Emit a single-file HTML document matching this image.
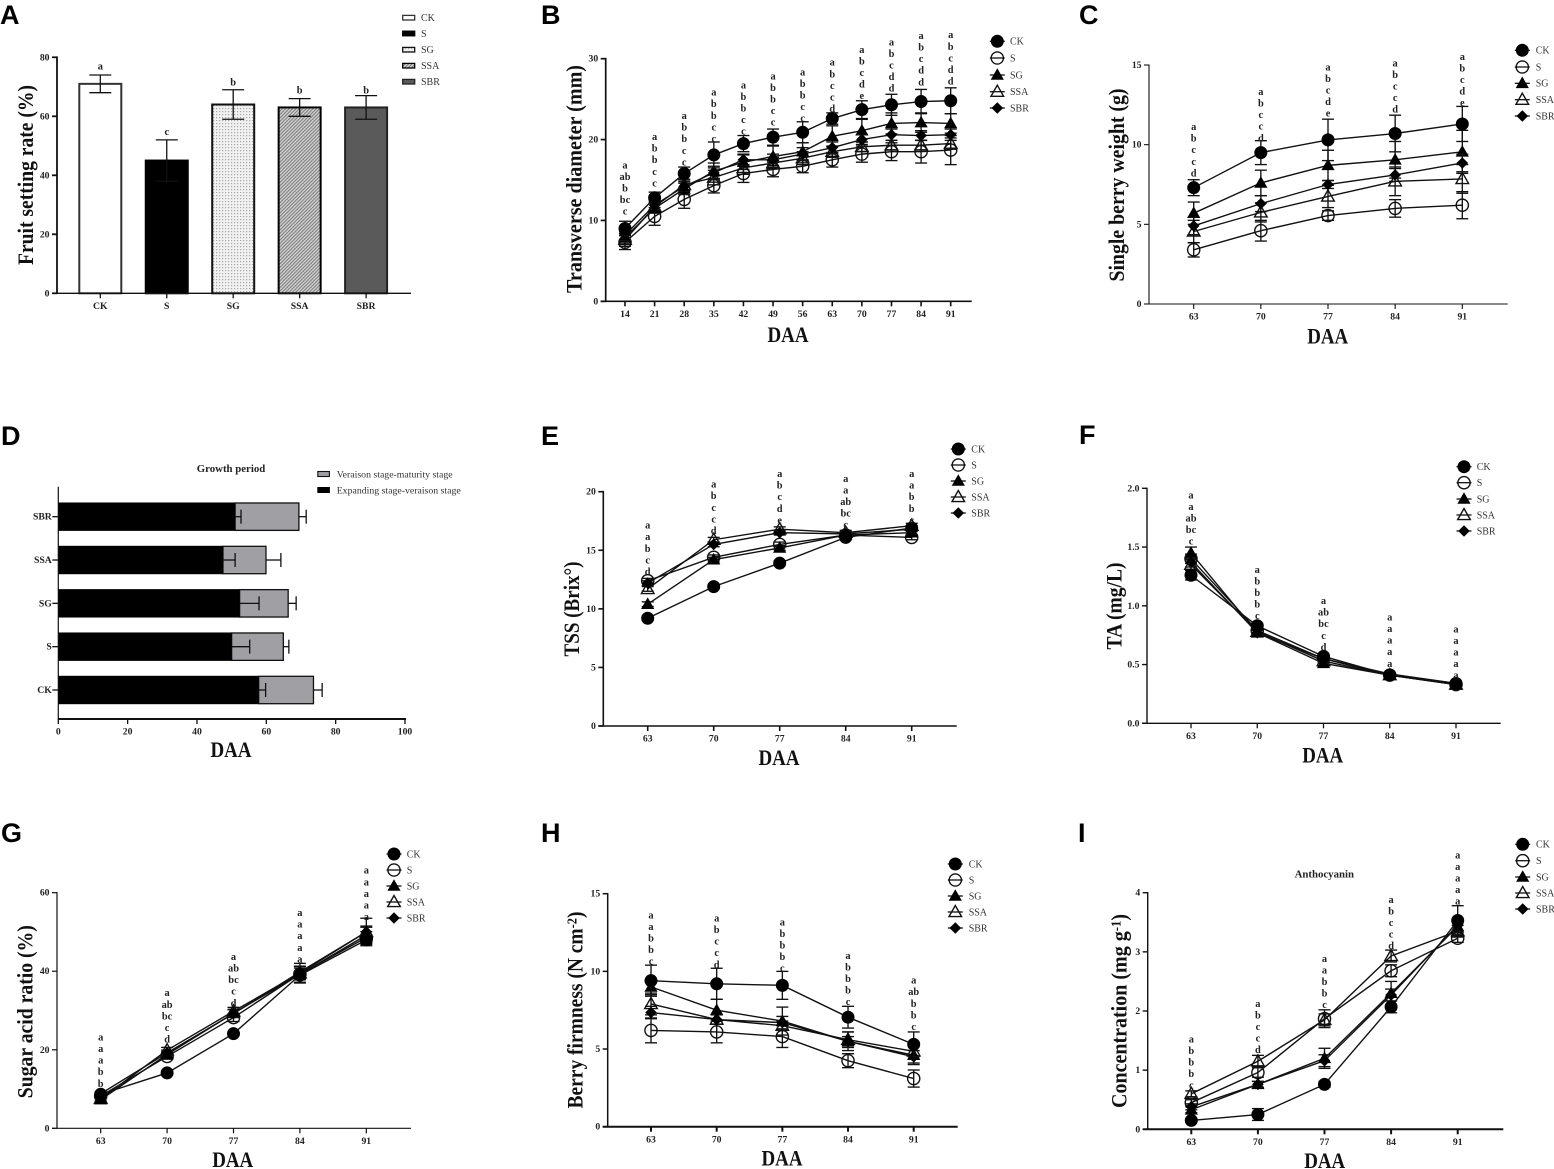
<!DOCTYPE html>
<html lang="en">
<head>
<meta charset="utf-8">
<title>Grape berry growth and quality panels</title>
<style>
html,body{margin:0;padding:0;background:#fff;}
svg{display:block;filter:blur(0.3px);}
text{font-family:"Liberation Serif",serif;fill:#111;}
.panel{font-family:"Liberation Sans",sans-serif;font-weight:700;font-size:27px;fill:#000;}
.ytitle{font-weight:700;font-size:22px;text-anchor:middle;fill:#111;}
.xtitle{font-weight:700;font-size:22px;text-anchor:middle;fill:#111;}
.ctitle{font-weight:700;font-size:10.8px;text-anchor:middle;fill:#222;}
.tick{font-weight:700;font-size:9.7px;fill:#222;}
.letter{font-weight:700;font-size:10.4px;text-anchor:middle;fill:#222;}
.leg{font-size:10px;fill:#333;}
.legd{font-size:9.8px;fill:#333;}
</style>
</head>
<body>
<svg id="figure" xmlns="http://www.w3.org/2000/svg" width="1554" height="1169" viewBox="0 0 1554 1169">
<defs>
<pattern id="stipple" width="3" height="3" patternUnits="userSpaceOnUse">
<rect width="3" height="3" fill="#f1f1f1"/>
<rect x="0" y="0" width="1.2" height="1.2" fill="#a8a8a8"/>
</pattern>
<pattern id="hatch" width="2.4" height="2.4" patternUnits="userSpaceOnUse" patternTransform="rotate(45)">
<rect width="2.4" height="2.4" fill="#d6d6d6"/>
<rect x="0" y="0" width="1.1" height="2.4" fill="#7c7c7c"/>
</pattern>
</defs>
<rect width="1554" height="1169" fill="#fff"/>

<text class="panel" x="0" y="24">A</text>
<text class="panel" x="541" y="24">B</text>
<text class="panel" x="1079" y="24">C</text>
<text class="panel" x="1" y="445">D</text>
<text class="panel" x="541" y="445">E</text>
<text class="panel" x="1079" y="444">F</text>
<text class="panel" x="1" y="842">G</text>
<text class="panel" x="541" y="842">H</text>
<text class="panel" x="1078" y="842">I</text>

<text class="ytitle" transform="translate(33,175) rotate(-90)" textLength="180" lengthAdjust="spacingAndGlyphs">Fruit setting rate (%)</text>
<text class="ytitle" transform="translate(581.7,179) rotate(-90)" textLength="228" lengthAdjust="spacingAndGlyphs">Transverse diameter (mm)</text>
<text class="ytitle" transform="translate(1124,185) rotate(-90)" textLength="193" lengthAdjust="spacingAndGlyphs">Single berry weight (g)</text>
<text class="ytitle" transform="translate(579,609) rotate(-90)" textLength="95" lengthAdjust="spacingAndGlyphs">TSS (Brix°)</text>
<text class="ytitle" transform="translate(1121.7,606) rotate(-90)" textLength="87" lengthAdjust="spacingAndGlyphs">TA (mg/L)</text>
<text class="ytitle" transform="translate(32.7,1011.7) rotate(-90)" textLength="173" lengthAdjust="spacingAndGlyphs">Sugar acid ratio (%)</text>
<text class="ytitle" transform="translate(582.7,1010) rotate(-90)" textLength="197" lengthAdjust="spacingAndGlyphs">Berry firmness (N cm<tspan dy="-6" font-size="14">-2</tspan><tspan dy="6">)</tspan></text>
<text class="ytitle" transform="translate(1126.7,1011) rotate(-90)" textLength="194" lengthAdjust="spacingAndGlyphs">Concentration (mg g<tspan dy="-6" font-size="14">-1</tspan><tspan dy="6">)</tspan></text>

<text class="xtitle" x="788" y="342" textLength="41" lengthAdjust="spacingAndGlyphs">DAA</text>
<text class="xtitle" x="1327.7" y="343.3" textLength="41" lengthAdjust="spacingAndGlyphs">DAA</text>
<text class="xtitle" x="231" y="757" textLength="41" lengthAdjust="spacingAndGlyphs">DAA</text>
<text class="xtitle" x="779" y="765" textLength="41" lengthAdjust="spacingAndGlyphs">DAA</text>
<text class="xtitle" x="1322.7" y="762.7" textLength="41" lengthAdjust="spacingAndGlyphs">DAA</text>
<text class="xtitle" x="232.7" y="1167" textLength="41" lengthAdjust="spacingAndGlyphs">DAA</text>
<text class="xtitle" x="782" y="1165.7" textLength="41" lengthAdjust="spacingAndGlyphs">DAA</text>
<text class="xtitle" x="1324.7" y="1168" textLength="41" lengthAdjust="spacingAndGlyphs">DAA</text>

<text class="ctitle" x="231" y="472">Growth period</text>
<text class="ctitle" x="1324.3" y="877.5">Anthocyanin</text>
</svg>

<script>
// ---------- Panel A data ----------
const aCategories = ['CK','S','SG','SSA','SBR'];
const aValues = [71,45,64,63,63];
const aErrors = [3,7,5,3,4];
const aLetters = ['a','c','b','b','b'];
const aLetterLevels = [76.8,54.7,71.4,68.7,68.7];
const aYTicks = ['0','20','40','60','80'];

// ---------- Panel D data ----------
const dCategories = ['CK','S','SG','SSA','SBR'];
const dExpanding = [57.8,50,52.3,47.5,51];
const dExpandingErr = [2,5.2,5.6,3.5,1.7];
const dVeraison = [15.8,14.9,14,12.4,18.4];
const dVeraisonErr = [2.5,1.6,2.3,4.3,2.1];
const dXTicks = ['0','20','40','60','80','100'];

// ---------- Panel B data ----------
const bCategories = ['14','21','28','35','42','49','56','63','70','77','84','91'];
const bYTicks = ['0','10','20','30'];
const bCK = [9.0,12.8,15.8,18.1,19.5,20.3,20.9,22.6,23.7,24.3,24.7,24.8];
const bS = [7.3,10.5,12.6,14.3,15.8,16.3,16.7,17.5,18.2,18.5,18.5,18.7];
const bSG = [7.9,11.5,13.9,16.1,17.2,17.9,18.5,20.4,21.1,22.0,22.1,22.0];
const bSSA = [7.6,11.7,14.4,15.3,16.5,17.1,17.7,18.5,19.1,19.3,19.3,19.5];
const bSBR = [8.2,11.9,14.2,15.9,17.5,17.5,18.2,19.0,20.0,20.6,20.5,20.6];
const bCKErr = [0.9,0.7,0.8,1.6,1.0,1.0,1.3,0.7,1.1,1.3,1.5,1.6];
const bSErr = [0.9,1.1,1.1,0.9,1.1,0.9,0.8,0.9,1.0,1.1,1.4,1.8];
const bSGErr = [0.7,0.6,0.7,1.0,0.9,1.3,1.1,1.3,1.4,1.3,1.2,1.2];
const bSSAErr = [0.8,0.6,0.7,0.9,0.8,0.7,0.8,0.7,0.6,0.6,0.6,0.7];
const bSBRErr = [0.7,0.6,0.6,0.8,0.7,0.7,0.8,0.7,0.6,0.7,0.6,0.7];
const bLetters = [['a','ab','b','bc','c'],['a','b','b','c','c'],['a','b','b','c','c'],['a','b','b','c','c'],['a','b','b','c','c'],['a','b','b','c','c'],['a','b','b','c','c'],['a','b','c','c','d'],['a','b','c','d','e'],['a','b','c','d','d'],['a','b','c','d','d'],['a','b','c','d','d']];
const bLetterLevels = [16.8,20.3,22.9,25.8,26.7,27.8,28.3,29.5,31.1,32.0,32.8,32.9];

// ---------- Panel C data ----------
const cCategories = ['63','70','77','84','91'];
const cYTicks = ['0','5','10','15'];
const cCK = [7.3,9.5,10.3,10.7,11.3];
const cS = [3.4,4.6,5.55,6.0,6.2];
const cSG = [5.7,7.6,8.7,9.05,9.55];
const cSSA = [4.55,5.75,6.75,7.7,7.85];
const cSBR = [4.9,6.3,7.5,8.1,8.85];
const cCKErr = [0.5,0.75,1.3,1.15,1.1];
const cSErr = [0.45,0.65,0.3,0.55,0.85];
const cSGErr = [0.7,0.8,0.95,1.15,1.35];
const cSSAErr = [0.7,0.6,0.7,0.9,0.9];
const cSBRErr = [0.55,0.5,0.25,0.4,0.55];
const cLetters = [['a','b','c','c','d'],['a','b','c','c','d'],['a','b','c','d','e'],['a','b','c','c','d'],['a','b','c','d','e']];
const cLetterLevels = [11.1,13.3,14.85,15.1,15.5];

// ---------- Panel E data ----------
const eCategories = ['63','70','77','84','91'];
const eYTicks = ['0','5','10','15','20'];
const eCK = [9.2,11.9,13.9,16.1,16.9];
const eS = [12.4,14.4,15.5,16.3,16.1];
const eSG = [10.4,14.2,15.2,16.3,16.5];
const eSSA = [11.7,15.9,16.8,16.5,17.1];
const eSBR = [12.2,15.5,16.5,16.4,16.8];
const eCKErr = [0.2,0.2,0.2,0.2,0.2];
const eSErr = [0.2,0.2,0.2,0.2,0.2];
const eSGErr = [0.2,0.2,0.2,0.2,0.2];
const eSSAErr = [0.2,0.2,0.2,0.2,0.2];
const eSBRErr = [0.2,0.2,0.2,0.2,0.2];
const eLetters = [['a','a','b','c','d'],['a','b','c','c','d'],['a','b','c','d','e'],['a','a','ab','bc','c'],['a','a','b','b','c']];
const eLetterLevels = [17.1,20.6,21.5,21.1,21.5];

// ---------- Panel F data ----------
const fCategories = ['63','70','77','84','91'];
const fYTicks = ['0.0','0.5','1.0','1.5','2.0'];
const fCK = [1.26,0.83,0.57,0.41,0.34];
const fS = [1.40,0.79,0.55,0.41,0.33];
const fSG = [1.45,0.77,0.51,0.41,0.33];
const fSSA = [1.35,0.78,0.53,0.41,0.33];
const fSBR = [1.37,0.77,0.55,0.42,0.34];
const fCKErr = [0.04,0.02,0.02,0.01,0.01];
const fSErr = [0.04,0.02,0.02,0.01,0.01];
const fSGErr = [0.05,0.02,0.02,0.01,0.01];
const fSSAErr = [0.04,0.02,0.02,0.01,0.01];
const fSBRErr = [0.04,0.02,0.02,0.01,0.01];
const fLetters = [['a','a','ab','bc','c'],['a','b','b','b','c'],['a','ab','bc','c','d'],['a','a','a','a','a'],['a','a','a','a','a']];
const fLetterLevels = [1.94,1.305,1.04,0.90,0.80];

// ---------- Panel G data ----------
const gCategories = ['63','70','77','84','91'];
const gYTicks = ['0','20','40','60'];
const gCK = [8.66,14.1,24.1,39.0,48.0];
const gS = [8.2,18.3,28.2,39.3,48.6];
const gSG = [7.3,18.8,29.3,39.2,49.2];
const gSSA = [7.5,19.9,29.8,39.5,50.0];
const gSBR = [8.8,19.2,29.2,39.8,50.0];
const gCKErr = [0.5,0.5,0.5,1.0,1.2];
const gSErr = [0.5,0.7,1.0,1.5,1.5];
const gSGErr = [0.5,0.7,1.0,2.0,2.0];
const gSSAErr = [0.5,0.7,1.0,2.5,3.5];
const gSBRErr = [0.5,0.7,1.0,1.5,1.5];
const gLetters = [['a','a','a','b','b'],['a','ab','bc','c','d'],['a','ab','bc','c','d'],['a','a','a','a','a'],['a','a','a','a','a']];
const gLetterLevels = [23.1,34.4,43.6,54.8,65.6];

// ---------- Panel H data ----------
const hCategories = ['63','70','77','84','91'];
const hYTicks = ['0','5','10','15'];
const hCK = [9.4,9.2,9.1,7.05,5.3];
const hS = [6.2,6.1,5.8,4.25,3.1];
const hSG = [9.0,7.5,6.8,5.5,4.6];
const hSSA = [7.9,6.9,6.5,5.6,4.85];
const hSBR = [7.35,6.9,6.7,5.5,4.5];
const hCKErr = [1.0,1.0,0.9,0.7,0.8];
const hSErr = [0.8,0.7,0.7,0.45,0.55];
const hSGErr = [0.5,0.7,0.9,0.6,0.6];
const hSSAErr = [0.7,0.3,0.3,0.5,0.5];
const hSBRErr = [0.4,0.3,0.4,0.3,0.4];
const hLetters = [['a','a','b','b','c'],['a','b','c','c','d'],['a','b','b','b','c'],['a','b','b','b','c'],['a','ab','b','b','c']];
const hLetterLevels = [13.6,13.4,13.15,11.0,9.4];

// ---------- Panel I data ----------
const iCategories = ['63','70','77','84','91'];
const iYTicks = ['0','1','2','3','4'];
const iCK = [0.15,0.25,0.76,2.07,3.53];
const iS = [0.45,0.96,1.87,2.68,3.23];
const iSG = [0.33,0.76,1.2,2.3,3.43];
const iSSA = [0.6,1.15,1.85,2.93,3.35];
const iSBR = [0.38,0.76,1.16,2.27,3.45];
const iCKErr = [0.03,0.1,0.05,0.1,0.25];
const iSErr = [0.05,0.08,0.15,0.1,0.07];
const iSGErr = [0.05,0.05,0.17,0.2,0.1];
const iSSAErr = [0.05,0.1,0.1,0.1,0.1];
const iSBRErr = [0.05,0.05,0.1,0.1,0.1];
const iLetters = [['a','b','b','b','c'],['a','b','c','c','d'],['a','a','b','b','c'],['a','b','c','c','d'],['a','a','a','a','a']];
const iLetterLevels = [1.52,2.12,2.88,3.88,4.63];

const seriesNames = ['CK','S','SG','SSA','SBR'];
const INK = '#111';
const svg = document.getElementById('figure');
const NS = 'http://www.w3.org/2000/svg';

function mk(tag, attrs, parent, name) {
  const el = document.createElementNS(NS, tag);
  for (const k in attrs) el.setAttribute(k, attrs[k]);
  
  
  parent.appendChild(el);
  return el;
}
function label(txt, x, y, cls, anchor, parent, name) {
  const t = mk('text', {x:x, y:y, class:cls, 'text-anchor':anchor}, parent, name);
  t.textContent = txt;
  return t;
}
function line(x1, y1, x2, y2, w, parent, name, color) {
  return mk('line', {x1:x1, y1:y1, x2:x2, y2:y2, stroke:color || INK, 'stroke-width':w}, parent, name);
}
function marker(kind, x, y, parent, name) {
  const p = 'translate(' + x + ',' + y + ')';
  if (kind === 'CK') return mk('circle', {cx:x, cy:y, r:6.5, fill:'#000'}, parent, name);
  if (kind === 'S') return mk('circle', {cx:x, cy:y, r:6.1, fill:'none', stroke:'#111', 'stroke-width':1.4}, parent, name);
  if (kind === 'SG') return mk('polygon', {points:'0,-6.8 6.6,4.8 -6.6,4.8', transform:p, fill:'#000'}, parent, name);
  if (kind === 'SSA') return mk('polygon', {points:'0,-6.5 6.3,4.6 -6.3,4.6', transform:p, fill:'none', stroke:'#111', 'stroke-width':1.4}, parent, name);
  return mk('polygon', {points:'0,-5.8 5.8,0 0,5.8 -5.8,0', transform:p, fill:'#000'}, parent, name);
}
function yAxis(g, cfg, ticks, yPos) {
  line(cfg.x0, cfg.yTop - cfg.yw / 2, cfg.x0, cfg.y0, cfg.yw, g, 'y-axis-line');
  ticks.forEach(function (t) {
    const y = yPos(parseFloat(t));
    line(cfg.x0 - 5, y, cfg.x0, y, cfg.yw, g, 'y-tick-' + t);
    label(t, cfg.x0 - 7.5, y + 3, 'tick', 'end', g, 'y-tick-label-' + t);
  });
}
function xAxis(g, cfg, categories, xPos) {
  line(cfg.x0 - 5, cfg.y0, cfg.xEnd, cfg.y0, cfg.xw, g, 'x-axis-line');
  categories.forEach(function (c, i) {
    const x = xPos(i);
    line(x, cfg.y0, x, cfg.y0 + 5, cfg.xw, g, 'x-tick-' + c);
    label(c, x, cfg.y0 + 15.7, 'tick', 'middle', g, 'x-tick-label-' + c);
  });
}
function letterStacks(g, letters, levels, xPos, yPos) {
  letters.forEach(function (stack, i) {
    const top = yPos(levels[i]);
    stack.forEach(function (l, j) {
      label(l, xPos(i), top + j * 11.55 + 3, 'letter', 'middle', g, 'significance-letter');
    });
  });
}
function lineLegend(g, mx, tx, ys) {
  seriesNames.forEach(function (n, i) {
    const e = mk('g', {}, g, 'legend-entry-' + n.toLowerCase());
    line(mx - 7.5, ys[i], mx + 7.5, ys[i], 1.3, e, 'legend-line');
    marker(n, mx, ys[i], e, 'legend-marker');
    label(n, tx, ys[i] + 3.3, 'leg', 'start', e, 'legend-label');
  });
}
function lineChart(id, cfg, categories, yTicks, series, letters, levels) {
  const g = mk('g', {}, svg, id + '-chart');
  const yMax = parseFloat(yTicks[yTicks.length - 1]);
  const yPos = function (v) { return cfg.y0 - (v / yMax) * (cfg.y0 - cfg.yTop); };
  const xPos = function (i) { return cfg.xFirst + i * (cfg.xLast - cfg.xFirst) / (categories.length - 1); };
  const order = ['S','SSA','SG','SBR','CK'];
  order.forEach(function (name) {
    const s = series[name];
    const sg = mk('g', {}, g, id + '-series-' + name.toLowerCase());
    s.values.forEach(function (v, i) {
      const x = xPos(i), hi = yPos(v + s.errs[i]), lo = yPos(v - s.errs[i]);
      line(x, hi, x, lo, 1.35, sg, 'error-bar-' + name.toLowerCase());
      line(x - 6, hi, x + 6, hi, 1.35, sg, 'error-cap-upper');
      line(x - 6, lo, x + 6, lo, 1.35, sg, 'error-cap-lower');
    });
    const pts = s.values.map(function (v, i) { return xPos(i) + ',' + yPos(v); }).join(' ');
    mk('polyline', {points:pts, fill:'none', stroke:'#111', 'stroke-width':1.4}, sg, 'series-line-' + name.toLowerCase());
    s.values.forEach(function (v, i) {
      marker(name, xPos(i), yPos(v), sg, 'point-' + name.toLowerCase() + '-' + categories[i]);
    });
  });
  yAxis(g, cfg, yTicks, yPos);
  xAxis(g, cfg, categories, xPos);
  letterStacks(g, letters, levels, xPos, yPos);
  lineLegend(g, cfg.legX, cfg.legT, cfg.legY);
}
function group(ck, ckE, s, sE, sg, sgE, ssa, ssaE, sbr, sbrE) {
  return {
    CK: {values:ck, errs:ckE}, S: {values:s, errs:sE}, SG: {values:sg, errs:sgE},
    SSA: {values:ssa, errs:ssaE}, SBR: {values:sbr, errs:sbrE}
  };
}

// ---------- Panel A: bars ----------
(function () {
  const cfg = {x0:57, xEnd:411, y0:293.3, yTop:57.3, yw:1.8, xw:1.3};
  const g = mk('g', {}, svg, 'a-chart');
  const yMax = parseFloat(aYTicks[aYTicks.length - 1]);
  const yPos = function (v) { return cfg.y0 - (v / yMax) * (cfg.y0 - cfg.yTop); };
  const xPos = function (i) { return 100.3 + i * 66.45; };
  const fills = ['#fff','#000','url(#stipple)','url(#hatch)','#5a5a5a'];
  const borders = ['#333','#000','#111','#000','#222'];
  aValues.forEach(function (v, i) {
    const x = xPos(i), top = yPos(v);
    mk('rect', {x:x - 21, y:top, width:42, height:cfg.y0 - top, fill:fills[i], stroke:borders[i], 'stroke-width':2}, g, 'bar-' + aCategories[i].toLowerCase());
    const hi = yPos(v + aErrors[i]), lo = yPos(v - aErrors[i]);
    line(x, hi, x, lo, 1.3, g, 'error-bar-' + aCategories[i].toLowerCase());
    line(x - 11, hi, x + 11, hi, 1.3, g, 'error-cap-upper');
    line(x - 11, lo, x + 11, lo, 1.3, g, 'error-cap-lower');
    label(aLetters[i], x, yPos(aLetterLevels[i]) + 3, 'letter', 'middle', g, 'significance-letter');
  });
  yAxis(g, cfg, aYTicks, yPos);
  xAxis(g, cfg, aCategories, xPos);
  const legY = [17.7, 33.5, 49.7, 65.7, 81.7];
  aCategories.forEach(function (n, i) {
    const e = mk('g', {}, g, 'legend-entry-' + n.toLowerCase());
    mk('rect', {x:402.7, y:legY[i] - 2.3, width:12, height:4.6, fill:fills[i], stroke:borders[i], 'stroke-width':1.3}, e, 'legend-swatch');
    label(n, 421, legY[i] + 3.3, 'leg', 'start', e, 'legend-label');
  });
})();

// ---------- Panel D: stacked horizontal bars ----------
(function () {
  const x0 = 58.3, x100 = 405, yAxisBase = 719;
  const g = mk('g', {}, svg, 'd-chart');
  const xMax = parseFloat(dXTicks[dXTicks.length - 1]);
  const xPos = function (v) { return x0 + (v / xMax) * (x100 - x0); };
  const yPos = function (i) { return 690 - i * 43.33; };
  dCategories.forEach(function (c, i) {
    const y = yPos(i), a = dExpanding[i], b = a + dVeraison[i];
    mk('rect', {x:xPos(a), y:y - 13.7, width:xPos(b) - xPos(a), height:27.4, fill:'#a0a0a4', stroke:'#111', 'stroke-width':1.3}, g, 'bar-veraison-maturity-' + c.toLowerCase());
    mk('rect', {x:x0, y:y - 14.2, width:xPos(a) - x0, height:28.4, fill:'#000'}, g, 'bar-expanding-veraison-' + c.toLowerCase());
    const e1 = xPos(a + dExpandingErr[i]), e2 = xPos(b + dVeraisonErr[i]);
    line(xPos(a), y, e1, y, 1.3, g, 'error-bar-expanding');
    line(e1, y - 7, e1, y + 7, 1.3, g, 'error-cap-expanding');
    line(xPos(b), y, e2, y, 1.3, g, 'error-bar-veraison');
    line(e2, y - 7, e2, y + 7, 1.3, g, 'error-cap-veraison');
    line(x0 - 6, y, x0, y, 1.3, g, 'y-tick-' + c);
    label(c, x0 - 6.5, y + 3, 'tick', 'end', g, 'y-tick-label-' + c);
  });
  line(x0, 486.7, x0, yAxisBase, 1.2, g, 'y-axis-line');
  line(x0 - 0.5, yAxisBase, x100 + 1, yAxisBase, 2, g, 'x-axis-line');
  dXTicks.forEach(function (t) {
    const x = xPos(parseFloat(t));
    line(x, yAxisBase, x, yAxisBase + 5, 1.3, g, 'x-tick-' + t);
    label(t, x, yAxisBase + 15.7, 'tick', 'middle', g, 'x-tick-label-' + t);
  });
  const l1 = mk('g', {}, g, 'legend-entry-veraison-maturity');
  mk('rect', {x:317.8, y:471.5, width:11.6, height:5, fill:'#a0a0a4', stroke:'#111', 'stroke-width':1.1}, l1, 'legend-swatch');
  label('Veraison stage-maturity stage', 336.7, 477.3, 'legd', 'start', l1, 'legend-label');
  const l2 = mk('g', {}, g, 'legend-entry-expanding-veraison');
  mk('rect', {x:317.3, y:487, width:12.6, height:6, fill:'#000'}, l2, 'legend-swatch');
  label('Expanding stage-veraison stage', 336.7, 493.3, 'legd', 'start', l2, 'legend-label');
})();

// ---------- Line panels ----------
lineChart('b', {x0:605.7, xEnd:971.7, xFirst:625, xLast:950.7, y0:301.3, yTop:58.7, yw:1.7, xw:1.6,
  legX:997.3, legT:1010, legY:[41.3,58,75,91.7,108]},
  bCategories, bYTicks, group(bCK,bCKErr,bS,bSErr,bSG,bSGErr,bSSA,bSSAErr,bSBR,bSBRErr), bLetters, bLetterLevels);

lineChart('c', {x0:1149, xEnd:1507.7, xFirst:1193.7, xLast:1462.3, y0:304, yTop:65, yw:1.1, xw:1.1,
  legX:1522.3, legT:1535.7, legY:[50.3,67,83.3,99.7,116]},
  cCategories, cYTicks, group(cCK,cCKErr,cS,cSErr,cSG,cSGErr,cSSA,cSSAErr,cSBR,cSBRErr), cLetters, cLetterLevels);

lineChart('e', {x0:603.3, xEnd:956.7, xFirst:647.7, xLast:911.7, y0:726, yTop:491.7, yw:1.6, xw:1.6,
  legX:958.3, legT:971.3, legY:[449,465,481,497,513]},
  eCategories, eYTicks, group(eCK,eCKErr,eS,eSErr,eSG,eSGErr,eSSA,eSSAErr,eSBR,eSBRErr), eLetters, eLetterLevels);

lineChart('f', {x0:1147, xEnd:1500.7, xFirst:1191, xLast:1456, y0:723.3, yTop:488.3, yw:1.4, xw:1.3,
  legX:1464, legT:1476.7, legY:[466.7,482.7,499,515,531]},
  fCategories, fYTicks, group(fCK,fCKErr,fS,fSErr,fSG,fSGErr,fSSA,fSSAErr,fSBR,fSBRErr), fLetters, fLetterLevels);

lineChart('g', {x0:57, xEnd:411, xFirst:100.7, xLast:366.3, y0:1128.3, yTop:892.7, yw:1.2, xw:1.2,
  legX:394, legT:406.7, legY:[854,870,886,902,918]},
  gCategories, gYTicks, group(gCK,gCKErr,gS,gSErr,gSG,gSGErr,gSSA,gSSAErr,gSBR,gSBRErr), gLetters, gLetterLevels);

lineChart('h', {x0:607.7, xEnd:957.7, xFirst:651, xLast:913.7, y0:1126.7, yTop:893.7, yw:1.5, xw:2,
  legX:955.3, legT:968.7, legY:[864,880,896,912,928]},
  hCategories, hYTicks, group(hCK,hCKErr,hS,hSErr,hSG,hSGErr,hSSA,hSSAErr,hSBR,hSBRErr), hLetters, hLetterLevels);

lineChart('i', {x0:1147.7, xEnd:1503.3, xFirst:1191.3, xLast:1457.7, y0:1129.3, yTop:892.7, yw:1.4, xw:2,
  legX:1522.7, legT:1536, legY:[844.3,860.7,877,893,909]},
  iCategories, iYTicks, group(iCK,iCKErr,iS,iSErr,iSG,iSGErr,iSSA,iSSAErr,iSBR,iSBRErr), iLetters, iLetterLevels);
</script>
</body>
</html>
